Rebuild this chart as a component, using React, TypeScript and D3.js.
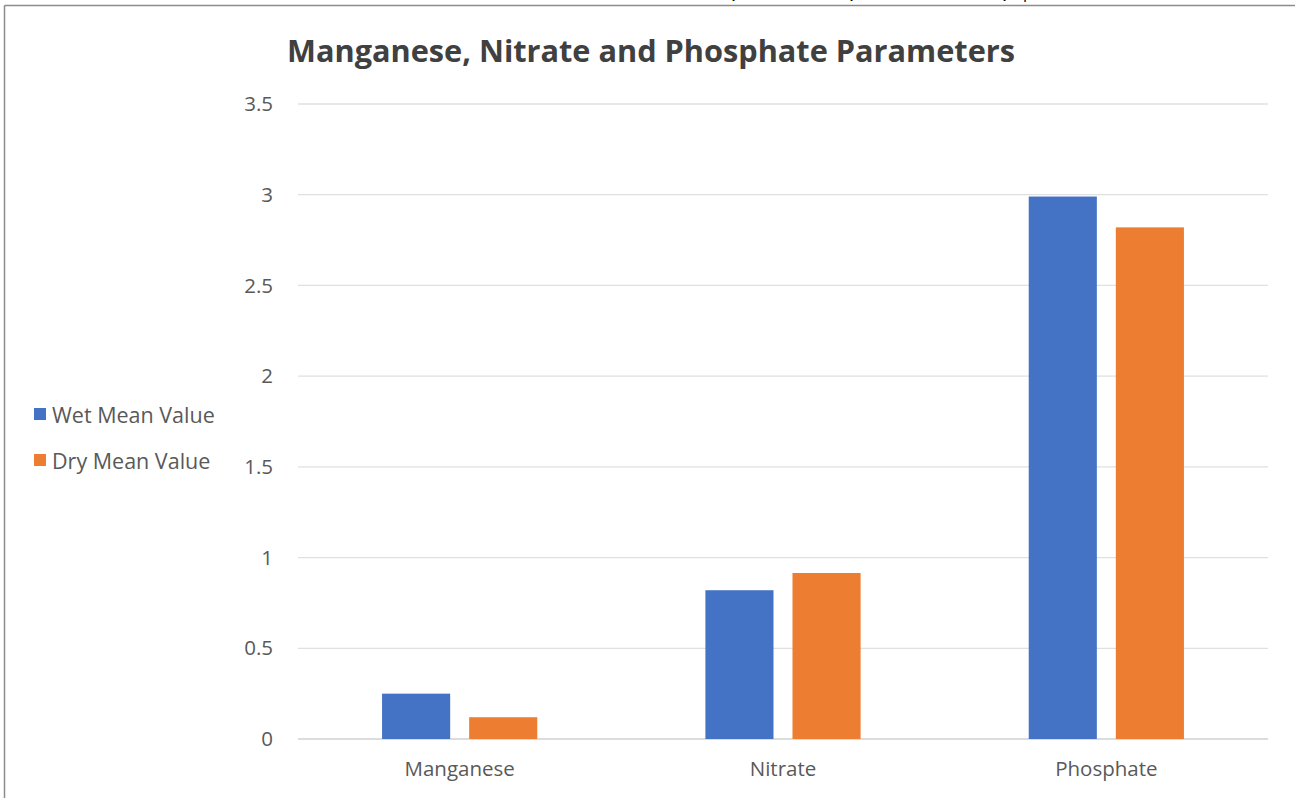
import React from "react";
import * as d3 from "d3";

const categories = ["Manganese", "Nitrate", "Phosphate"];
const seriesNames = ["Wet Mean Value", "Dry Mean Value"];
const wetValues = [0.25, 0.82, 2.99];
const dryValues = [0.12, 0.915, 2.82];
const yTicks = [0, 0.5, 1, 1.5, 2, 2.5, 3, 3.5];
const colors = ["#4472C4", "#ED7D31"];
const title = "Manganese, Nitrate and Phosphate Parameters";

const W = 1295;
const H = 798;
const plot = { left: 298, right: 1268, top: 104, bottom: 739 };
const font = "'Open Sans', sans-serif";

export default function App() {
  const x0 = d3.scaleBand<string>().domain(categories).range([plot.left, plot.right]).paddingInner(0.52).paddingOuter(0.26);
  const x1 = d3.scaleBand<string>().domain(seriesNames).range([0, x0.bandwidth()]).paddingInner(0.218).paddingOuter(0);
  const y = d3.scaleLinear().domain([0, 3.5]).range([plot.bottom, plot.top]);
  const series = [wetValues, dryValues];

  return (
    <svg width={W} height={H} style={{ position: "fixed", left: 0, top: 0 }}>
      <rect x={0} y={0} width={W} height={H} fill="#fff" />
      <line x1={4.5} y1={5.5} x2={W} y2={5.5} stroke="#8c8c8c" strokeWidth={1.5} />
      <line x1={4.5} y1={5.5} x2={4.5} y2={H} stroke="#8c8c8c" strokeWidth={1.5} />
      {[732, 850, 1003].map((cx, i) => (
        <text key={i} x={cx} y={-1} fontFamily={font} fontSize={16} fontWeight="bold" fill="#000">,</text>
      ))}
      <text x={1023} y={-2} fontFamily={font} fontSize={16} fill="#000">p</text>
      <text x={651} y={62} textAnchor="middle" fontFamily={font} fontSize={30.7} fontWeight="bold" fill="#404040">
        {title}
      </text>
      {yTicks.map((t) => (
        <g key={t}>
          <line x1={plot.left} x2={plot.right} y1={y(t)} y2={y(t)} stroke={t === 0 ? "#d0d0d0" : "#e0e0e0"} strokeWidth={1.3} />
          <text x={273} y={y(t)} dy="0.35em" textAnchor="end" fontFamily={font} fontSize={20.5} fill="#595959">
            {t}
          </text>
        </g>
      ))}
      {categories.map((c, ci) => (
        <g key={c}>
          {series.map((vals, si) => (
            <rect
              key={si}
              x={(x0(c) as number) + (x1(seriesNames[si]) as number)}
              y={y(vals[ci])}
              width={x1.bandwidth()}
              height={y(0) - y(vals[ci])}
              fill={colors[si]}
            />
          ))}
          <text x={(x0(c) as number) + x0.bandwidth() / 2} y={776} textAnchor="middle" fontFamily={font} fontSize={20.5} fill="#595959">
            {c}
          </text>
        </g>
      ))}
      {seriesNames.map((s, i) => (
        <g key={s}>
          <rect x={34} y={[408, 454][i]} width={12} height={12} fill={colors[i]} />
          <text x={52} y={[415, 461][i]} dy="0.35em" fontFamily={font} fontSize={21.5} fill="#595959">
            {s}
          </text>
        </g>
      ))}
    </svg>
  );
}
